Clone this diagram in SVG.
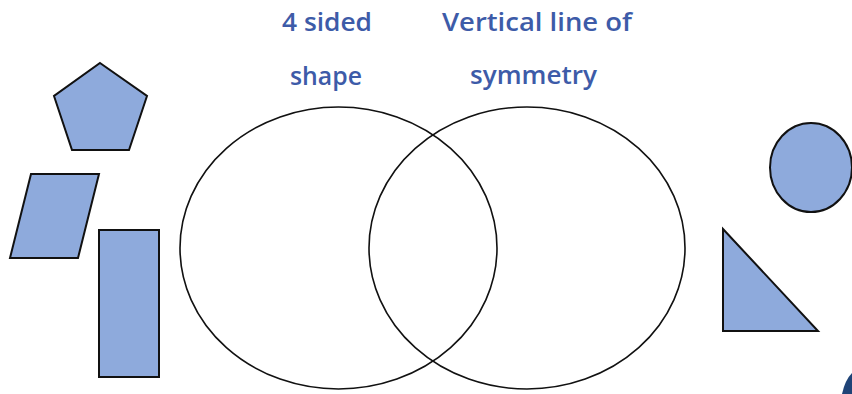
<svg xmlns="http://www.w3.org/2000/svg" width="852" height="394" viewBox="0 0 852 394">
<style>
.lbl{font-family:"Open Sans","Liberation Sans",sans-serif;font-size:25px;font-weight:600;fill:#3d5ba8;text-anchor:middle}
.shp{fill:#8eaadc;stroke:#111;stroke-width:2;stroke-linejoin:miter}
.venn{fill:none;stroke:#111;stroke-width:1.6}
</style>
<rect width="852" height="394" fill="#fff"/>
<g id="set-4-sided">
<ellipse class="venn" cx="338.5" cy="248" rx="158.5" ry="141"/>
<text class="lbl" x="327" y="31" textLength="90" lengthAdjust="spacingAndGlyphs">4 sided</text>
<text class="lbl" x="326" y="85" textLength="72" lengthAdjust="spacingAndGlyphs">shape</text>
</g>
<g id="set-symmetry">
<ellipse class="venn" cx="527" cy="248" rx="158" ry="141"/>
<text class="lbl" x="537" y="31" textLength="190" lengthAdjust="spacingAndGlyphs">Vertical line of</text>
<text class="lbl" x="533.5" y="84" textLength="127" lengthAdjust="spacingAndGlyphs">symmetry</text>
</g>
<g id="pentagon"><polygon class="shp" points="100,63 147,96 129,150 72,150 54,96"/></g>
<g id="parallelogram"><polygon class="shp" points="31,174 99,174 78,258 10,258"/></g>
<g id="rectangle"><rect class="shp" x="99" y="230" width="60" height="147"/></g>
<g id="circle"><ellipse class="shp" cx="811" cy="167.5" rx="41" ry="44.5"/></g>
<g id="triangle"><polygon class="shp" points="723,229 818,331 723,331"/></g>
<g id="partial-shape"><path d="M842,394 Q845,380 852,373 L852,394 Z" fill="#1f4377"/></g>
<g id="connectors"></g>
</svg>
